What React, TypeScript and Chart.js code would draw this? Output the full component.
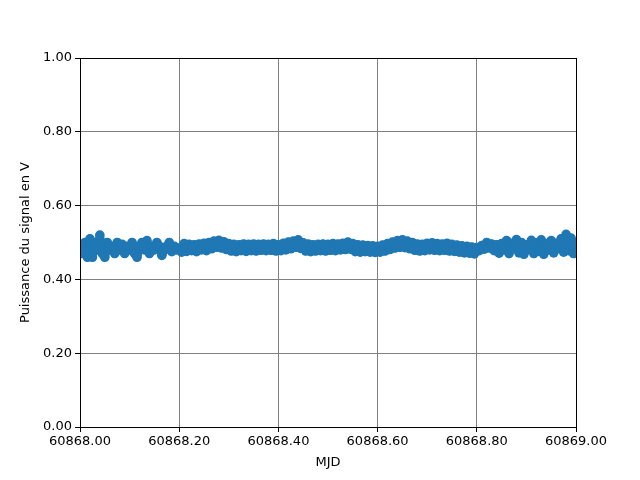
import React, { useEffect, useRef } from "react";
import { Chart, registerables } from "chart.js";

Chart.register(...registerables);

const MJD_START = 60868.0;
const MJD_STEP = 0.005;

const signalValues: number[] = [
  0.49, 0.47, 0.50, 0.46, 0.51, 0.46, 0.50, 0.48, 0.52, 0.47,
  0.46, 0.50, 0.48, 0.49, 0.47, 0.50, 0.48, 0.495, 0.47, 0.49,
  0.48, 0.50, 0.47, 0.46, 0.49, 0.50, 0.48, 0.505, 0.47, 0.49,
  0.48, 0.50, 0.49, 0.465, 0.48, 0.49, 0.50, 0.475, 0.49, 0.48,
  0.485, 0.474, 0.497, 0.476, 0.495, 0.478, 0.494, 0.475, 0.496, 0.480,
  0.498, 0.478, 0.500, 0.483, 0.504, 0.487, 0.506, 0.485, 0.502, 0.481,
  0.497, 0.477, 0.495, 0.475, 0.494, 0.478, 0.496, 0.476, 0.495, 0.478,
  0.496, 0.477, 0.495, 0.479, 0.496, 0.478, 0.495, 0.479, 0.497, 0.477,
  0.494, 0.478, 0.498, 0.480, 0.501, 0.483, 0.504, 0.487, 0.507, 0.484,
  0.499, 0.477, 0.496, 0.475, 0.494, 0.477, 0.495, 0.478, 0.496, 0.477,
  0.495, 0.479, 0.497, 0.478, 0.496, 0.480, 0.498, 0.481, 0.501, 0.482,
  0.497, 0.475, 0.494, 0.474, 0.493, 0.475, 0.492, 0.474, 0.491, 0.473,
  0.490, 0.474, 0.493, 0.477, 0.497, 0.481, 0.501, 0.485, 0.505, 0.487,
  0.507, 0.486, 0.504, 0.483, 0.500, 0.479, 0.496, 0.477, 0.495, 0.478,
  0.498, 0.480, 0.499, 0.479, 0.497, 0.478, 0.496, 0.479, 0.498, 0.477,
  0.495, 0.476, 0.493, 0.474, 0.491, 0.472, 0.490, 0.471, 0.488, 0.469,
  0.486, 0.478, 0.492, 0.482, 0.500, 0.485, 0.496, 0.478, 0.494, 0.471,
  0.497, 0.480, 0.505, 0.470, 0.498, 0.484, 0.508, 0.472, 0.500, 0.468,
  0.494, 0.482, 0.506, 0.470, 0.499, 0.476, 0.507, 0.468, 0.497, 0.480,
  0.505, 0.472, 0.498, 0.483, 0.510, 0.474, 0.522, 0.478, 0.512, 0.470,
  0.500,
];

const X_MIN = 60868;
const X_MAX = 60869;
const Y_MIN = 0;
const Y_MAX = 1;
const TICK_STEP = 0.2;

const X_TITLE = "MJD";
const Y_TITLE = "Puissance du signal en V";

const FONT = "'DejaVu Sans', sans-serif";

const frame = {
  id: "frame",
  afterDatasetsDraw(chart: any) {
    const { ctx, chartArea } = chart;
    ctx.save();
    ctx.strokeStyle = "#000";
    ctx.lineWidth = 1;
    ctx.strokeRect(
      Math.round(chartArea.left) + 0.5,
      Math.round(chartArea.top) + 0.5,
      Math.round(chartArea.right - chartArea.left),
      Math.round(chartArea.bottom - chartArea.top)
    );
    ctx.restore();
  },
};

export default function App() {
  const ref = useRef<HTMLCanvasElement | null>(null);

  useEffect(() => {
    document.body.style.margin = "0";
    const points = signalValues.map((v, i) => ({
      x: MJD_START + i * MJD_STEP,
      y: v,
    }));
    const chart = new Chart(ref.current as HTMLCanvasElement, {
      type: "scatter",
      data: {
        datasets: [
          {
            data: points,
            backgroundColor: "#1f77b4",
            borderColor: "#1f77b4",
            pointRadius: 4.8,
            pointBorderWidth: 0,
            showLine: true,
            borderWidth: 8.5,
            borderCapStyle: "round",
            borderJoinStyle: "round",
            clip: 0,
          } as any,
        ],
      },
      options: {
        animation: false,
        responsive: false,
        devicePixelRatio: 1,
        layout: { padding: { left: 0, top: 58, right: 64, bottom: 0 } },
        plugins: { legend: { display: false }, tooltip: { enabled: false } },
        scales: {
          x: {
            type: "linear",
            min: X_MIN,
            max: X_MAX,
            afterFit: (s: any) => {
              s.height = 53;
            },
            ticks: {
              stepSize: TICK_STEP,
              color: "#000",
              font: { family: FONT, size: 13 },
              maxRotation: 0,
              padding: 2,
              callback: (v: any) => Number(v).toFixed(2),
            },
            grid: {
              color: "#808080",
              lineWidth: 1,
              tickColor: "#000",
              tickLength: 5,
            },
            border: { color: "#000" },
            title: {
              display: true,
              text: X_TITLE,
              color: "#000",
              font: { family: FONT, size: 13 },
              padding: { top: 2, bottom: 10 },
            },
          },
          y: {
            type: "linear",
            min: Y_MIN,
            max: Y_MAX,
            afterFit: (s: any) => {
              s.width = 80;
            },
            ticks: {
              stepSize: TICK_STEP,
              color: "#000",
              font: { family: FONT, size: 13 },
              padding: 3,
              callback: (v: any) => Number(v).toFixed(2),
            },
            grid: {
              color: "#808080",
              lineWidth: 1,
              tickColor: "#000",
              tickLength: 5,
            },
            border: { color: "#000" },
            title: {
              display: true,
              text: Y_TITLE,
              color: "#000",
              font: { family: FONT, size: 13 },
              padding: { top: 18, bottom: 4 },
            },
          },
        },
      },
      plugins: [frame],
    });
    return () => chart.destroy();
  }, []);

  return (
    <div style={{ position: "absolute", left: 0, top: 0, width: 640, height: 480, background: "#fff" }}>
      <canvas ref={ref} width={640} height={480} />
    </div>
  );
}
